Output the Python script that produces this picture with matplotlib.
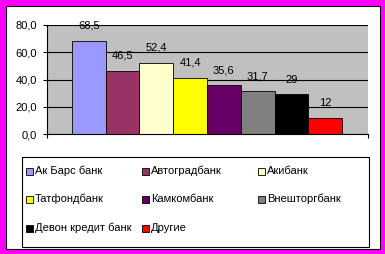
import matplotlib.pyplot as plt
from matplotlib.patches import Rectangle
from matplotlib.ticker import FuncFormatter

plt.rcParams['font.family'] = ['Liberation Sans', 'DejaVu Sans']

banks = ["Ак Барс банк", "Автоградбанк", "Акибанк", "Татфондбанк",
         "Камкомбанк", "Внешторгбанк", "Девон кредит банк", "Другие"]
values = [68.5, 46.5, 52.4, 41.4, 35.6, 31.7, 29, 12]
value_labels = ["68,5", "46,5", "52,4", "41,4", "35,6", "31,7", "29", "12"]
colors = ["#9999FF", "#993366", "#FFFFCC", "#FFFF00",
          "#660066", "#808080", "#000000", "#FF0000"]

W, H = 385, 254
fig = plt.figure(figsize=(W / 100, H / 100), dpi=100)
fig.patch.set_facecolor("#FF00FF")


def px(x, y_top):
    # pixel position (from top-left) -> figure fraction
    return x / W, 1 - y_top / H


# white chart area with black frame
fig.patches.append(Rectangle((5.5 / W, 5.5 / H), 374.5 / W, 243 / H,
                             transform=fig.transFigure, facecolor="white",
                             edgecolor="black", linewidth=0.8, zorder=-10))

ax = fig.add_axes([47 / W, 120 / H, 321 / W, 109 / H])
ax.set_facecolor("#C0C0C0")

for i, (v, c, name) in enumerate(zip(values, colors, banks)):
    ax.bar(i, v, width=1.0, color=c, edgecolor="black", linewidth=0.6,
           label=name, zorder=3)
    ax.annotate(value_labels[i], (i, v), xytext=(0, 7), textcoords="offset points",
                ha="center", va="bottom", fontsize=8)

ax.set_ylim(0, 80)
ax.set_xlim(-1.24, 8.27)
ax.set_yticks([0, 20, 40, 60, 80])
ax.yaxis.set_major_formatter(FuncFormatter(lambda y, _: f"{y:.1f}".replace(".", ",")))
ax.yaxis.grid(True, color="black", linewidth=0.8, zorder=1)
ax.set_axisbelow(True)
ax.set_xticks([-1.24, 8.27])
ax.set_xticklabels([])
ax.tick_params(axis="both", direction="out", length=3, width=0.8, labelsize=8, pad=4)
for s in ["top", "right"]:
    ax.spines[s].set_visible(False)
for s in ["left", "bottom"]:
    ax.spines[s].set_linewidth(0.8)
    ax.spines[s].set_zorder(4)

# legend drawn as in the spreadsheet: fixed column grid, row-major order
x0, y0 = px(22, 247)
x1, y1 = px(369, 157)
fig.patches.append(Rectangle((x0, y0), x1 - x0, y1 - y0, transform=fig.transFigure,
                             facecolor="white", edgecolor="black", linewidth=0.8,
                             zorder=5))
col_x = [26, 142, 258]
row_y = [171, 199, 228]
for k, (name, c) in enumerate(zip(banks, colors)):
    cx = col_x[k % 3]
    cy = row_y[k // 3]
    mx, my = px(cx, cy + 3.5)
    fig.patches.append(Rectangle((mx, my), 7 / W, 7 / H, transform=fig.transFigure,
                                 facecolor=c, edgecolor="black", linewidth=0.6,
                                 zorder=6))
    tx, ty = px(cx + 9, cy)
    fig.text(tx, ty, name, fontsize=8, ha="left", va="center", zorder=6)

fig.savefig("out.png", dpi=100, facecolor=fig.get_facecolor())
